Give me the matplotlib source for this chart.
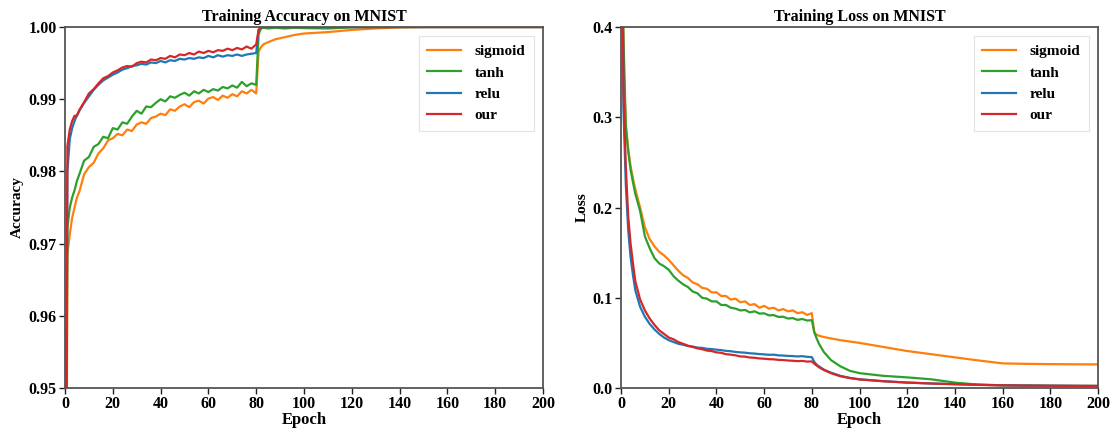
import matplotlib
matplotlib.use("Agg")
import matplotlib.pyplot as plt

plt.rcParams['font.family'] = ['Liberation Serif', 'DejaVu Serif']
plt.rcParams['font.weight'] = 'bold'

epochs = [0, 1, 2, 3, 4, 5, 6,
          8, 10, 12, 14, 16, 18, 20, 22, 24, 26,
          28, 30, 32, 34, 36, 38, 40, 42, 44, 46,
          48, 50, 52, 54, 56, 58, 60, 62, 64, 66,
          68, 70, 72, 74, 76, 78, 80,
          81, 82, 83, 85, 88, 92, 96, 100, 110, 120, 130, 140, 150, 160, 170, 180, 190, 200]

names = ['sigmoid', 'tanh', 'relu', 'our']
colors = ['#ff7f0e', '#2ca02c', '#1f77b4', '#d62728']

# training accuracy
acc_sigmoid = [0.880, 0.9685, 0.9713, 0.9736, 0.9750, 0.9764, 0.9772,
               0.9796, 0.9806, 0.9812, 0.9825, 0.9832, 0.9843, 0.9846, 0.9852, 0.9850, 0.9858,
               0.9856, 0.9865, 0.9868, 0.9866, 0.9874, 0.9876, 0.9880, 0.9878, 0.9886, 0.9884,
               0.9890, 0.9893, 0.9889, 0.9896, 0.9898, 0.9894, 0.9901, 0.9903, 0.9899, 0.9905,
               0.9902, 0.9907, 0.9904, 0.9911, 0.9908, 0.9913, 0.9908,
               0.9966, 0.9972, 0.9976, 0.9979, 0.9983, 0.9986, 0.9989, 0.9991, 0.9993, 0.9996,
               0.9998, 0.99995, 1.0, 1.0, 1.0, 1.0, 1.0, 1.0]
acc_tanh = [0.900, 0.9722, 0.9750, 0.9764, 0.9774, 0.9787, 0.9796,
            0.9815, 0.9820, 0.9834, 0.9838, 0.9848, 0.9846, 0.9860, 0.9858, 0.9868, 0.9866,
            0.9876, 0.9884, 0.9880, 0.9890, 0.9889, 0.9895, 0.9900, 0.9897, 0.9904, 0.9902,
            0.9906, 0.9909, 0.9905, 0.9911, 0.9908, 0.9913, 0.9910, 0.9914, 0.9912, 0.9917,
            0.9915, 0.9919, 0.9916, 0.9924, 0.9918, 0.9922, 0.9920,
            0.9990, 0.9998, 0.9999, 0.9998, 0.9999, 0.9998, 0.9999, 0.99985, 0.9998, 0.99995,
            1.0, 1.0, 1.0, 1.0, 1.0, 1.0, 1.0, 1.0]
acc_relu = [0.890, 0.9800, 0.9845, 0.9860, 0.9870, 0.9878, 0.9884,
            0.9895, 0.9904, 0.9913, 0.9920, 0.9926, 0.9930, 0.9934, 0.9937, 0.9941, 0.9943,
            0.9946, 0.9947, 0.9949, 0.9948, 0.9951, 0.9950, 0.9953, 0.9951, 0.9954, 0.9953,
            0.9956, 0.9955, 0.9957, 0.9956, 0.9958, 0.9957, 0.9960, 0.9958, 0.9961, 0.9959,
            0.9961, 0.9960, 0.9962, 0.9960, 0.9962, 0.9963, 0.9964,
            0.9996, 0.99995, 1.0, 1.0, 1.0, 1.0, 1.0, 1.0, 1.0, 1.0,
            1.0, 1.0, 1.0, 1.0, 1.0, 1.0, 1.0, 1.0]
acc_our = [0.900, 0.9835, 0.9858, 0.9870, 0.9877, 0.9877, 0.9885,
           0.9896, 0.9908, 0.9914, 0.9922, 0.9929, 0.9932, 0.9937, 0.9940, 0.9944, 0.9946,
           0.9945, 0.9950, 0.9952, 0.9951, 0.9955, 0.9954, 0.9957, 0.9956, 0.9960, 0.9958,
           0.9962, 0.9961, 0.9964, 0.9962, 0.9966, 0.9964, 0.9967, 0.9965, 0.9968, 0.9967,
           0.9970, 0.9968, 0.9971, 0.9969, 0.9973, 0.9970, 0.9976,
           0.9996, 1.0, 1.0, 1.0, 1.0, 1.0, 1.0, 1.0, 1.0, 1.0,
           1.0, 1.0, 1.0, 1.0, 1.0, 1.0, 1.0, 1.0]

# training loss
loss_sigmoid = [0.600, 0.360, 0.292, 0.265, 0.246, 0.232, 0.220,
                0.200, 0.178, 0.165, 0.157, 0.151, 0.147, 0.142, 0.136, 0.130, 0.125,
                0.122, 0.117, 0.115, 0.111, 0.110, 0.106, 0.106, 0.102, 0.102, 0.098,
                0.099, 0.095, 0.096, 0.092, 0.093, 0.089, 0.091, 0.088, 0.089, 0.086,
                0.0875, 0.085, 0.086, 0.083, 0.084, 0.081, 0.083,
                0.062, 0.059, 0.058, 0.0565, 0.055, 0.053, 0.0515, 0.050, 0.0455, 0.041,
                0.0375, 0.034, 0.0305, 0.0273, 0.0268, 0.0265, 0.0263, 0.0262]
loss_tanh = [0.600, 0.390, 0.290, 0.262, 0.242, 0.228, 0.215,
             0.196, 0.168, 0.155, 0.144, 0.138, 0.135, 0.131, 0.124, 0.119, 0.115,
             0.112, 0.107, 0.105, 0.100, 0.099, 0.096, 0.096, 0.092, 0.092, 0.089,
             0.088, 0.086, 0.0865, 0.0838, 0.0850, 0.0825, 0.0828, 0.0805, 0.0808, 0.0788,
             0.0790, 0.0770, 0.0775, 0.0755, 0.0765, 0.0748, 0.0752,
             0.062, 0.055, 0.049, 0.040, 0.031, 0.024, 0.019, 0.0165, 0.0135, 0.0118,
             0.0097, 0.006, 0.0037, 0.003, 0.0027, 0.0025, 0.0024, 0.0023]
loss_relu = [0.700, 0.310, 0.225, 0.175, 0.145, 0.125, 0.108,
             0.090, 0.079, 0.071, 0.065, 0.060, 0.056, 0.053, 0.051, 0.049, 0.048,
             0.0465, 0.046, 0.0448, 0.0445, 0.0435, 0.0432, 0.0425, 0.0420, 0.0412, 0.0408,
             0.0400, 0.0395, 0.0392, 0.0385, 0.0382, 0.0376, 0.0373, 0.0368, 0.0370, 0.0362,
             0.0360, 0.0356, 0.0354, 0.0350, 0.0353, 0.0346, 0.0342,
             0.029, 0.026, 0.024, 0.0205, 0.017, 0.0135, 0.0112, 0.0097, 0.0076, 0.0061,
             0.0051, 0.0043, 0.0036, 0.0031, 0.0028, 0.0026, 0.0024, 0.0023]
loss_our = [0.700, 0.330, 0.245, 0.190, 0.160, 0.138, 0.118,
            0.098, 0.086, 0.077, 0.070, 0.064, 0.060, 0.056, 0.054, 0.051, 0.049,
            0.047, 0.0455, 0.044, 0.043, 0.0415, 0.041, 0.0395, 0.039, 0.0375, 0.037,
            0.0362, 0.0350, 0.0348, 0.0338, 0.0335, 0.0328, 0.0325, 0.0320, 0.0318, 0.0312,
            0.0310, 0.0305, 0.0302, 0.0298, 0.0300, 0.0293, 0.0295,
            0.0270, 0.025, 0.023, 0.0200, 0.0165, 0.013, 0.011, 0.0095, 0.0075, 0.006,
            0.005, 0.0042, 0.0035, 0.003, 0.0027, 0.0025, 0.0024, 0.0023]

acc = [acc_sigmoid, acc_tanh, acc_relu, acc_our]
loss = [loss_sigmoid, loss_tanh, loss_relu, loss_our]


fig = plt.figure(figsize=(11.15, 4.36), dpi=100)
ax1 = fig.add_axes([0.0583, 0.110, 0.4287, 0.828])
ax2 = fig.add_axes([0.557, 0.110, 0.4278, 0.828])


def style(ax, title, ylabel):
    ax.set_title(title, fontsize=11.5, fontweight='bold', pad=4)
    ax.set_xlabel('Epoch', fontsize=12, fontweight='bold', labelpad=0)
    ax.set_ylabel(ylabel, fontsize=11, fontweight='bold', labelpad=3)
    ax.set_xlim(0, 200)
    ax.set_xticks(range(0, 201, 20))
    for s in ax.spines.values():
        s.set_color('#555555')
        s.set_linewidth(1.3)
    ax.tick_params(axis='both', labelsize=11.5, length=4, width=1, colors='#222222',
                   labelcolor='black', pad=2)
    for lbl in ax.get_xticklabels() + ax.get_yticklabels():
        lbl.set_fontweight('bold')
    leg = ax.legend(loc='upper right', fontsize=11, handlelength=2.2, handletextpad=0.9,
                    labelspacing=0.5, borderpad=0.55, fancybox=False, borderaxespad=0.6)
    leg.get_frame().set_edgecolor('#dddddd')
    leg.get_frame().set_linewidth(0.8)
    for t in leg.get_texts():
        t.set_fontweight('bold')


for vals, name, c in zip(acc, names, colors):
    ax1.plot(epochs, vals, color=c, lw=1.6, label=name)
ax1.set_ylim(0.95, 1.0)
ax1.set_yticks([0.95, 0.96, 0.97, 0.98, 0.99, 1.00])
ax1.set_yticklabels(['%.2f' % v for v in [0.95, 0.96, 0.97, 0.98, 0.99, 1.00]])
style(ax1, 'Training Accuracy on MNIST', 'Accuracy')

for vals, name, c in zip(loss, names, colors):
    ax2.plot(epochs, vals, color=c, lw=1.6, label=name)
ax2.set_ylim(0.0, 0.4)
ax2.set_yticks([0.0, 0.1, 0.2, 0.3, 0.4])
ax2.set_yticklabels(['%.1f' % v for v in [0.0, 0.1, 0.2, 0.3, 0.4]])
style(ax2, 'Training Loss on MNIST', 'Loss')

fig.savefig('out.png', dpi=100)
